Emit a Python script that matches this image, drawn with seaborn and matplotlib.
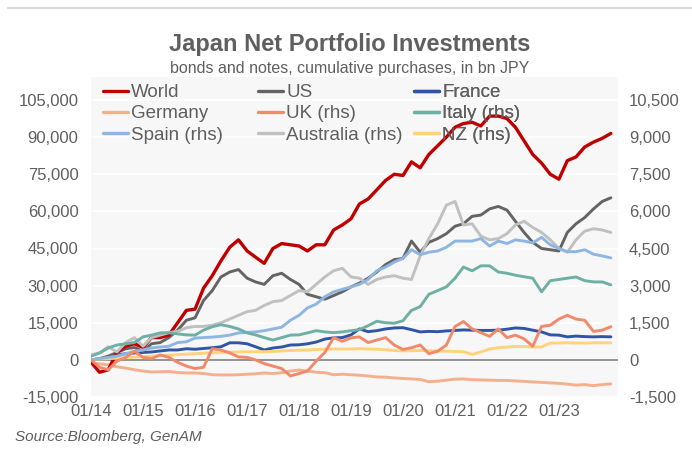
import matplotlib
matplotlib.use("Agg")
import matplotlib.pyplot as plt
from matplotlib.lines import Line2D
from matplotlib.ticker import FuncFormatter, FixedLocator
import matplotlib.dates as mdates
import seaborn as sns
import pandas as pd
import numpy as np

# ---- data (bimonthly, Jan 2014 .. Jan 2024), bn JPY ----
dates = pd.date_range("2014-01-01", periods=61, freq="2MS")
tick_years = list(range(2014, 2024))

world = [-1000, -5000, -4000, 3000, 5500, 6500, 5000, 9000, 9000, 10000,
         15000, 20000, 20500, 29000, 34000, 40000, 45500, 48500, 44000, 41500,
         39000, 45000, 47000, 46500, 46000, 44000, 46500, 46500, 52500, 54500,
         57000, 63000, 65000, 68700, 72500, 75000, 74500, 80000, 77600, 83000,
         86500, 90000, 94000, 95500, 96000, 94500, 98500, 98500, 97500, 94000,
         88500, 83000, 79500, 75000, 73000, 80500, 82000, 86000, 88000, 89500,
         91500]
us = [0, 500, 1500, 3000, 4500, 5000, 3500, 6500, 7000, 9000,
      12000, 16000, 17000, 24000, 28000, 33500, 35500, 36500, 33000, 31500,
      30500, 34000, 35000, 32500, 30500, 26500, 25500, 24500, 26000, 27500,
      29500, 31000, 33000, 35500, 38500, 40500, 41000, 48000, 43500, 47500,
      49000, 51000, 54000, 55000, 58000, 58500, 61000, 62000, 60500, 56000,
      51500, 47500, 45000, 44500, 44000, 51500, 55000, 57500, 61000, 64000,
      65500]
france = [0, 400, 800, 2000, 2500, 2800, 3000, 3200, 3600, 4000,
          4000, 4500, 4300, 4600, 4900, 5300, 6900, 6900, 6500, 5300,
          4000, 4800, 5200, 6000, 6100, 6500, 7200, 8400, 8900, 9000,
          10100, 12500, 11400, 11800, 12500, 12900, 13000, 12200, 11300, 11500,
          11400, 11700, 11900, 12100, 12000, 11900, 11900, 12000, 12400, 12900,
          12700, 12000, 11300, 10100, 10000, 9300, 9600, 9400, 9300, 9400,
          9300]
germany = [-1200, -1600, -2000, -2800, -3300, -4000, -4500, -4900, -4800, -4700,
           -5100, -5300, -5300, -5500, -6000, -6100, -6100, -6000, -5800, -5600,
           -5300, -5500, -5200, -4500, -4100, -4500, -5000, -5200, -6000, -5800,
           -6000, -6200, -6500, -6900, -7000, -7300, -7500, -7700, -7900, -8800,
           -8600, -8200, -7800, -7700, -8000, -8100, -8200, -8300, -8300, -8500,
           -8700, -8900, -9100, -9300, -9500, -9800, -10200, -10000, -10400, -10000,
           -9700]
uk = [0, -300, -400, -50, 100, 350, 100, 50, 200, 100,
      -100, -250, -350, -300, 450, 400, 280, 120, 100, 0,
      -150, -250, -350, -650, -550, -450, -50, 300, 900, 750,
      890, 930, 700, 800, 900, 600, 420, 490, 600, 250,
      350, 600, 1350, 1550, 1250, 1100, 950, 1250, 900, 1000,
      850, 550, 1350, 1400, 1650, 1800, 1650, 1600, 1150, 1200,
      1340]
italy = [150, 280, 480, 600, 650, 700, 930, 1000, 1090, 1100,
         1050, 1010, 1000, 1200, 1340, 1420, 1350, 1250, 1090, 1010,
         900, 800, 900, 1000, 1010, 1090, 1180, 1130, 1100, 1130,
         1180, 1220, 1380, 1560, 1500, 1480, 1580, 2000, 2150, 2650,
         2800, 2950, 3300, 3750, 3600, 3800, 3800, 3550, 3500, 3420,
         3360, 3300, 2750, 3200, 3250, 3300, 3350, 3200, 3150, 3150,
         3030]
spain = [0, 50, 100, 150, 250, 350, 400, 480, 520, 550,
         700, 730, 880, 900, 920, 950, 1000, 1090, 1110, 1130,
         1180, 1250, 1320, 1600, 1800, 2100, 2250, 2550, 2750, 2850,
         2950, 3050, 3250, 3600, 3750, 3950, 4100, 4450, 4250, 4350,
         4400, 4550, 4800, 4800, 4800, 4900, 4600, 4800, 4700, 4850,
         4800, 4730, 4950, 4650, 4500, 4370, 4370, 4450, 4270, 4200,
         4120]
australia = [200, 280, 530, 320, 700, 900, 550, 900, 1000, 1100,
             1150, 1300, 1350, 1350, 1400, 1500, 1650, 1800, 1950, 2000,
             2200, 2350, 2400, 2600, 2800, 2750, 3050, 3350, 3600, 3700,
             3350, 3300, 3050, 3250, 3350, 3400, 3300, 3250, 4200, 4900,
             5500, 6250, 6400, 5450, 5500, 5000, 4850, 4900, 5100, 5450,
             5600, 5350, 5150, 4850, 4500, 4350, 4850, 5200, 5300, 5250,
             5150]
nz = [0, 30, 50, 70, 90, 110, 130, 150, 170, 190,
      210, 230, 250, 270, 290, 300, 310, 320, 330, 330,
      330, 340, 360, 380, 390, 400, 420, 430, 440, 440,
      440, 450, 440, 430, 410, 380, 360, 370, 380, 370,
      360, 350, 340, 330, 220, 320, 440, 490, 520, 540,
      540, 520, 520, 680, 680, 690, 680, 680, 690, 690,
      690]

left_names = ["World", "US", "France", "Germany"]
right_names = ["UK (rhs)", "Italy (rhs)", "Spain (rhs)", "Australia (rhs)", "NZ (rhs)"]
df = pd.DataFrame({"date": dates, "World": world, "US": us, "France": france,
                   "Germany": germany, "UK (rhs)": uk, "Italy (rhs)": italy,
                   "Spain (rhs)": spain, "Australia (rhs)": australia,
                   "NZ (rhs)": nz})

colors = {"World": "#c00000", "US": "#646464", "France": "#2f55a4",
          "Germany": "#f4b08e", "UK (rhs)": "#f08a6a", "Italy (rhs)": "#6fb0a5",
          "Spain (rhs)": "#8fb6e3", "Australia (rhs)": "#c0c0c0",
          "NZ (rhs)": "#ffd27c"}

# ---- style ----
sns.set_style("white")
plt.rcParams["font.family"] = ["Liberation Sans", "DejaVu Sans"]
TXT = "#5f5f5f"

W, H = 692, 462
fig = plt.figure(figsize=(W / 100, H / 100), dpi=100)
fx = lambda x: x / W
fy = lambda y: 1 - y / H

L, R, T, B = 91, 618, 77, 397
ax = fig.add_axes([fx(L), fy(B), fx(R) - fx(L), fy(T) - fy(B)])
ax.set_facecolor("#f7f7f7")
ax2 = ax.twinx()
ax2.patch.set_visible(False)

LW = 2.1
for n in left_names[::-1]:
    sns.lineplot(data=df, x="date", y=n, ax=ax, color=colors[n],
                 lw=LW + (0.3 if n == "World" else 0),
                 zorder=5 if n == "World" else 3)
for n in right_names[::-1]:
    sns.lineplot(data=df, x="date", y=n, ax=ax2, color=colors[n], lw=LW, zorder=3)

ytop = 105000 + 23 * 120000 / 297
ax.set_ylim(-15000, ytop)
ax2.set_ylim(-1500, ytop / 10)
ax.set_yticks(np.arange(-15000, 105001, 15000))
ax2.set_yticks(np.arange(-1500, 10501, 1500))
fmt = FuncFormatter(lambda v, p: f"{int(round(v)):,}")
ax.yaxis.set_major_formatter(fmt)
ax2.yaxis.set_major_formatter(fmt)

ax.set_xlim(pd.Timestamp("2013-12-31"), pd.Timestamp("2024-02-20"))
ax.xaxis.set_major_locator(FixedLocator(
    [mdates.date2num(pd.Timestamp(f"{y}-01-01")) for y in tick_years]))
ax.xaxis.set_major_formatter(mdates.DateFormatter("%m/%y"))
ax.set_xlabel("")
ax.set_ylabel("")
ax2.set_ylabel("")

ax.grid(axis="y", color="white", lw=1.2, zorder=0)
ax.grid(axis="x", visible=False)
ax2.grid(False)
ax.axhline(0, color="#808080", lw=1.2, zorder=2)

for a in (ax, ax2):
    for s in a.spines.values():
        s.set_visible(False)
ax.tick_params(axis="both", length=0, labelsize=12, colors=TXT)
ax.tick_params(axis="y", pad=9)
ax.tick_params(axis="x", pad=5)
ax2.tick_params(axis="y", length=0, labelsize=12, colors=TXT, pad=8)

for a in (ax, ax2):
    lg = a.get_legend()
    if lg is not None:
        lg.remove()

# ---- legend: 3 columns at fixed positions ----
cols = [["World", "Germany", "Spain (rhs)"],
        ["US", "UK (rhs)", "Australia (rhs)"],
        ["France", "Italy (rhs)", "NZ (rhs)"]]
col_x = [103, 258, 414]
for names, cx in zip(cols, col_x):
    hs = [Line2D([], [], color=colors[n], lw=LW + 0.3) for n in names]
    lg = ax2.legend(hs, names, loc="upper left", bbox_to_anchor=(fx(cx), fy(84)),
                    bbox_transform=fig.transFigure, frameon=False, fontsize=13.5,
                    handlelength=1.35, handletextpad=0.15, labelspacing=0.22,
                    borderpad=0, borderaxespad=0, labelcolor=TXT)
    ax2.add_artist(lg)

# ---- titles / source ----
fig.text(fx(350), fy(45), "Japan Net Portfolio Investments", ha="center",
         va="center", fontsize=17, fontweight="bold", color=TXT)
fig.text(fx(350), fy(68), "bonds and notes, cumulative purchases, in bn JPY",
         ha="center", va="center", fontsize=11.5, color=TXT)
fig.text(fx(15), fy(437), "Source:Bloomberg, GenAM", ha="left", va="center",
         fontsize=11, style="italic", color=TXT)
fig.add_artist(Line2D([fx(8), 1], [fy(8), fy(8)], transform=fig.transFigure,
                      color="#d9d9d9", lw=1.5))

fig.savefig("out.png", dpi=100)
